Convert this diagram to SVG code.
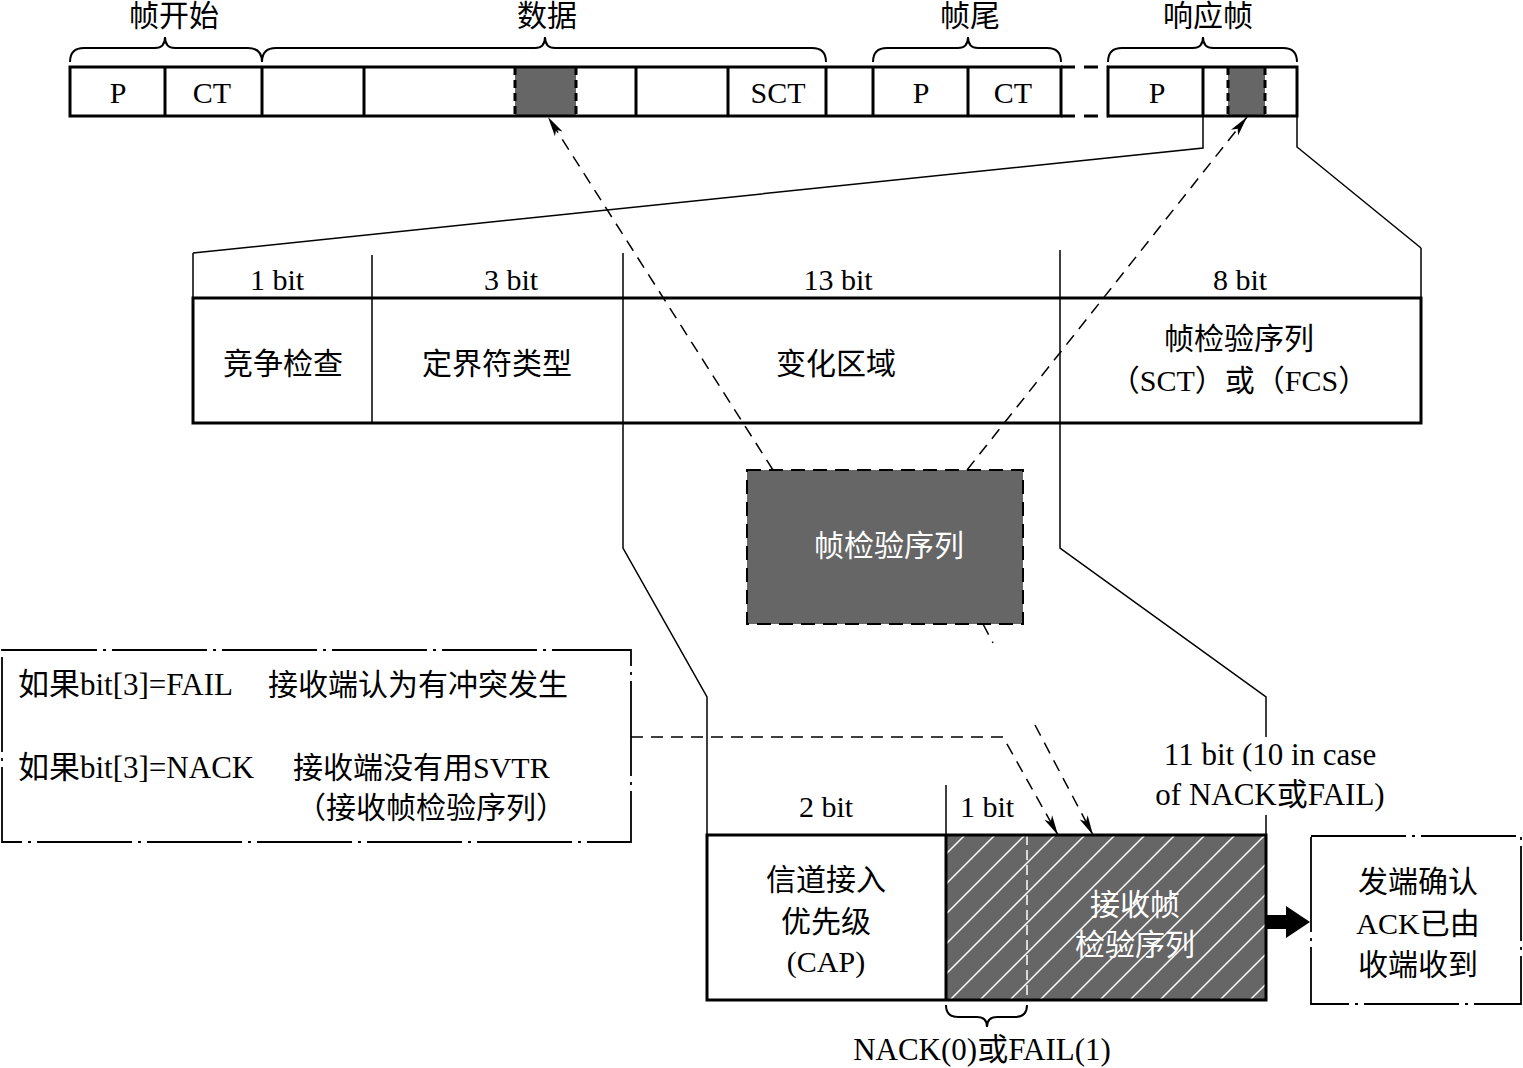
<svg xmlns="http://www.w3.org/2000/svg" width="1523" height="1068" viewBox="0 0 1523 1068">
<style>
text{font-family:"Liberation Serif","Noto Sans CJK SC",serif;fill:#000;text-anchor:middle}
.t30{font-size:30px}
.t31{font-size:31px}
.w{fill:#fff}
.thick{fill:none;stroke:#000;stroke-width:3}
.thin{fill:none;stroke:#000;stroke-width:1.5}
.brace{fill:none;stroke:#000;stroke-width:2}
.dash{fill:none;stroke:#000;stroke-width:1.5;stroke-dasharray:12 8}
.dashdot{fill:#fff;stroke:#000;stroke-width:1.8;stroke-dasharray:95 6 3 6}
</style>
<defs>
<marker id="arr" viewBox="0 0 20 10" refX="20" refY="5" markerWidth="20" markerHeight="10" markerUnits="userSpaceOnUse" orient="auto">
<path d="M0,0.5 L20,5 L0,9.5 L5,5 Z" fill="#000"/>
</marker>
<pattern id="hatch" patternUnits="userSpaceOnUse" width="30" height="30">
<rect width="30" height="30" fill="#666"/>
<path d="M-3,33 L33,-3 M-3,3 L3,-3 M27,33 L33,27" stroke="#fff" stroke-width="1.5"/>
</pattern>
</defs>

<!-- Top frame bar -->
<g id="top-bar">
<rect x="515" y="67" width="61" height="49" fill="#666"/>
<rect x="1228" y="67" width="37" height="49" fill="#666"/>
<line x1="515" y1="67" x2="515" y2="116" stroke="#000" stroke-width="3" stroke-dasharray="8 5"/>
<line x1="576" y1="67" x2="576" y2="116" stroke="#000" stroke-width="3" stroke-dasharray="8 5"/>
<line x1="1228" y1="67" x2="1228" y2="116" stroke="#000" stroke-width="3" stroke-dasharray="8 5"/>
<line x1="1265" y1="67" x2="1265" y2="116" stroke="#000" stroke-width="3" stroke-dasharray="8 5"/>
<rect x="70" y="67" width="991" height="49" class="thick"/>
<rect x="1108" y="67" width="189" height="49" class="thick"/>
<path class="thick" d="M165,67V116 M262,67V116 M364,67V116 M636,67V116 M728,67V116 M826,67V116 M873,67V116 M968,67V116 M1203,67V116"/>
<path d="M1061,67H1108 M1061,116H1108" stroke="#000" stroke-width="3" stroke-dasharray="14 9" fill="none"/>
<text class="t30" x="118" y="103">P</text>
<text class="t30" x="212" y="103">CT</text>
<text class="t30" x="778" y="103">SCT</text>
<text class="t30" x="921" y="103">P</text>
<text class="t30" x="1013" y="103">CT</text>
<text class="t30" x="1157" y="103">P</text>
</g>

<g id="braces-top">
<path class="brace" d="M70,62 Q70,48 84,48 L155,48 Q165,48 165,37 Q165,48 175,48 L248,48 Q262,48 262,62"/>
<path class="brace" d="M262,62 Q262,48 276,48 L535,48 Q545,48 545,37 Q545,48 555,48 L812,48 Q826,48 826,62"/>
<path class="brace" d="M873,62 Q873,48 887,48 L958,48 Q968,48 968,37 Q968,48 978,48 L1047,48 Q1061,48 1061,62"/>
<path class="brace" d="M1108,62 Q1108,48 1122,48 L1193,48 Q1203,48 1203,37 Q1203,48 1213,48 L1283,48 Q1297,48 1297,62"/>
<text class="t30" x="174" y="26">帧开始</text>
<text class="t30" x="547" y="26">数据</text>
<text class="t30" x="970" y="26">帧尾</text>
<text class="t30" x="1208" y="26">响应帧</text>
</g>

<!-- Middle table -->
<g id="mid-table">
<rect x="193" y="298" width="1228" height="125" class="thick"/>
<path class="thin" d="M193,253V298 M1421,248V298 M372,255V423"/>
<text class="t30" x="277" y="290">1 bit</text>
<text class="t30" x="511" y="290">3 bit</text>
<text class="t30" x="838" y="290">13 bit</text>
<text class="t30" x="1240" y="290">8 bit</text>
<text class="t30" x="283" y="374">竞争检查</text>
<text class="t30" x="497" y="374">定界符类型</text>
<text class="t30" x="836" y="374">变化区域</text>
<text class="t30" x="1239" y="349">帧检验序列</text>
<text class="t30" x="1239" y="391">（SCT）或（FCS）</text>
</g>

<!-- FCS gray box -->
<g id="fcs-box">
<rect x="747" y="470" width="276" height="154" fill="#666" stroke="#000" stroke-width="2" stroke-dasharray="14 8"/>
<text class="t30 w" x="889" y="556">帧检验序列</text>
</g>

<!-- Left note box -->
<g id="note-box">
<rect x="2" y="650" width="629" height="192" class="dashdot"/>
<text class="t31" x="18" y="695" style="text-anchor:start">如果bit[3]=FAIL</text>
<text class="t30" x="268" y="695" style="text-anchor:start">接收端认为有冲突发生</text>
<text class="t31" x="18" y="778" style="text-anchor:start">如果bit[3]=NACK</text>
<text class="t30" x="293" y="778" style="text-anchor:start">接收端没有用SVTR</text>
<text class="t30" x="296" y="818" style="text-anchor:start">（接收帧检验序列）</text>
</g>

<!-- Bottom ACK field -->
<g id="ack-field">
<rect x="707" y="835" width="239" height="165" fill="#fff"/>
<rect x="946" y="835" width="320" height="165" fill="url(#hatch)"/>
<line x1="1027" y1="835" x2="1027" y2="1000" stroke="#fff" stroke-width="1.5" stroke-dasharray="10 5"/>
<rect x="707" y="835" width="559" height="165" class="thick"/>
<line x1="946" y1="835" x2="946" y2="1000" stroke="#000" stroke-width="3"/>
<path class="thin" d="M946,785V835"/>
<text class="t30" x="826" y="817">2 bit</text>
<text class="t30" x="987" y="817">1 bit</text>
<text class="t30" x="826" y="890">信道接入</text>
<text class="t30" x="826" y="932">优先级</text>
<text class="t30" x="826" y="972">(CAP)</text>
<text class="t30 w" x="1135" y="915">接收帧</text>
<text class="t30 w" x="1135" y="955">检验序列</text>
<path class="brace" d="M946,1005 Q946,1017 958,1017 L977,1017 Q987,1017 987,1027 Q987,1017 997,1017 L1015,1017 Q1027,1017 1027,1005"/>
<text class="t31" x="982" y="1060">NACK(0)或FAIL(1)</text>
<text class="t31" x="1270" y="765">11 bit (10 in case</text>
<text class="t31" x="1270" y="805">of NACK或FAIL)</text>
</g>

<!-- Result box -->
<g id="result-box">
<rect x="1311" y="836" width="210" height="168" class="dashdot"/>
<text class="t30" x="1418" y="892">发端确认</text>
<text class="t30" x="1418" y="934">ACK已由</text>
<text class="t30" x="1418" y="975">收端收到</text>
</g>

<!-- Connectors -->
<g id="connectors">
<path class="thin" d="M193,253 L1203,148 L1203,116"/>
<path class="thin" d="M1297,116 L1297,147 L1421,248"/>
<path class="thin" d="M623,253 L623,548 L707,697 L707,835"/>
<path class="thin" d="M1060,250 L1060,548 L1266,697 L1266,737"/>
<path class="thin" d="M1266,815 L1266,835"/>
<path class="dash" d="M773,470 L548,117" marker-end="url(#arr)"/>
<path class="dash" d="M967,470 L1247,117" marker-end="url(#arr)"/>
<path class="dash" d="M983,624 L993,643"/>
<path class="dash" d="M1035,725 L1093,835" marker-end="url(#arr)"/>
<path class="dash" d="M631,737 L1003,737 L1058,835" marker-end="url(#arr)"/>
<polygon points="1266,915 1286,915 1286,906 1310,922 1286,938 1286,929 1266,929" fill="#000"/>
</g>
</svg>
